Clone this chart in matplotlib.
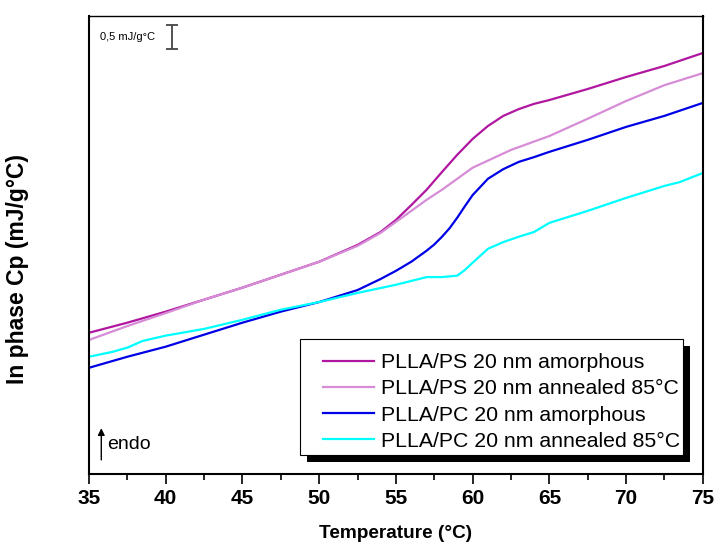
import matplotlib
matplotlib.use("Agg")
import matplotlib.pyplot as plt
from matplotlib.patches import Rectangle

plt.rcParams['font.family'] = ['Liberation Sans', 'DejaVu Sans']

# temperature grid (°C) and in-phase Cp (mJ/g°C, arbitrary offset)
temp_ps = [35, 37.5, 40, 42.5, 45, 47.5, 50, 52.5, 54, 55, 56, 57, 58, 59, 60,
           61, 62, 63, 64, 65, 67.5, 70, 72.5, 75]
ps_amorphous = [2.94, 3.15, 3.38, 3.63, 3.88, 4.15, 4.42, 4.77, 5.04, 5.29, 5.60,
                5.92, 6.29, 6.65, 6.98, 7.25, 7.46, 7.60, 7.71, 7.79, 8.02, 8.27,
                8.50, 8.77]

temp_ps_ann = [35, 37.5, 40, 42.5, 45, 47.5, 50, 52.5, 54, 55, 56, 57, 58, 59, 60,
               62.5, 65, 67.5, 70, 72.5, 75]
ps_annealed = [2.79, 3.08, 3.35, 3.63, 3.88, 4.15, 4.42, 4.75, 5.02, 5.25, 5.48,
               5.71, 5.92, 6.15, 6.38, 6.75, 7.04, 7.40, 7.77, 8.10, 8.35]

temp_pc = [35, 37.5, 40, 42.5, 45, 47.5, 50, 52.5, 54, 55, 56, 57, 57.5, 58, 58.5,
           59, 59.5, 60, 61, 62, 63, 64, 65, 67.5, 70, 72.5, 75]
pc_amorphous = [2.21, 2.44, 2.65, 2.90, 3.15, 3.38, 3.58, 3.83, 4.06, 4.23, 4.42,
                4.65, 4.78, 4.94, 5.12, 5.34, 5.58, 5.81, 6.15, 6.35, 6.50, 6.60,
                6.71, 6.96, 7.23, 7.46, 7.73]

temp_pc_ann = [35, 36.5, 37.5, 38.5, 40, 42.5, 45, 47.5, 50, 52.5, 55, 57, 58, 59,
               59.5, 60, 61, 62, 63, 64, 65, 67.5, 70, 72.5, 73.5, 75]
pc_annealed = [2.44, 2.54, 2.63, 2.77, 2.88, 3.02, 3.21, 3.42, 3.58, 3.77, 3.94,
               4.10, 4.10, 4.13, 4.25, 4.40, 4.69, 4.83, 4.94, 5.04, 5.23, 5.48,
               5.75, 6.00, 6.08, 6.27]

labels = ["PLLA/PS 20 nm amorphous", "PLLA/PS 20 nm annealed 85°C",
          "PLLA/PC 20 nm amorphous", "PLLA/PC 20 nm annealed 85°C"]
colors = ["#B0169F", "#D68CD6", "#0000E6", "#00FFFF"]

fig = plt.figure(figsize=(7.15, 5.44), dpi=100)
ax = fig.add_axes([0.1245, 0.129, 0.8585, 0.8415])

series = [(temp_ps, ps_amorphous), (temp_ps_ann, ps_annealed),
          (temp_pc, pc_amorphous), (temp_pc_ann, pc_annealed)]
for (t, cp), lab, c in zip(series, labels, colors):
    ax.plot(t, cp, color=c, lw=1.6, label=lab)

ax.set_xlim(35, 75)
ax.set_ylim(0, 9.54)
ax.set_xticks(range(35, 76, 5))
ax.set_xticks([37.5 + 5 * i for i in range(8)], minor=True)
ax.set_yticks([])
ax.tick_params(axis='x', which='major', direction='out', length=7, width=1.2,
               labelsize=15, pad=4)
ax.tick_params(axis='x', which='minor', direction='out', length=4, width=1.2)
for lab in ax.get_xticklabels():
    lab.set_fontweight('bold')
for side in ['left', 'right', 'bottom']:
    ax.spines[side].set_linewidth(1.5)
ax.spines['top'].set_linewidth(1.0)

ax.set_xlabel("Temperature (°C)", fontsize=13.7, fontweight='bold', labelpad=12)
ax.set_ylabel("In phase Cp (mJ/g°C)", fontsize=16.5, fontweight='bold')
ax.yaxis.set_label_coords(-0.097, 0.448)

# scale bar 0.5 mJ/g°C
ax.errorbar([40.4], [9.10], yerr=0.25, color='#444444', capsize=4, elinewidth=1.3,
            capthick=1.3)
ax.text(35.7, 9.10, "0,5 mJ/g°C", fontsize=8, va='center', ha='left')

# endo arrow
ax.annotate("", xy=(35.8, 0.95), xytext=(35.8, 0.29),
            arrowprops=dict(arrowstyle='-|>', color='black', lw=1.0,
                            mutation_scale=10, shrinkA=0, shrinkB=0))
ax.text(36.2, 0.62, "endo", fontsize=14, va='center', ha='left')

# legend box with solid black drop shadow
box = (0.3436, 0.0415, 0.6238, 0.2533)
ax.add_patch(Rectangle((box[0] + 0.0114, box[1] - 0.0153), box[2], box[3],
                       transform=ax.transAxes, facecolor='black', edgecolor='none',
                       zorder=5, clip_on=False))
ax.add_patch(Rectangle((box[0], box[1]), box[2], box[3], transform=ax.transAxes,
                       facecolor='white', edgecolor='black', lw=0.8, zorder=5.5,
                       clip_on=False))
leg = ax.legend(loc='center', bbox_to_anchor=(0.672, 0.157), fontsize=15.3,
                frameon=False, handlelength=2.4, handletextpad=0.3,
                labelspacing=0.34, borderpad=0, borderaxespad=0)
leg.set_zorder(6)

fig.savefig("out.png", dpi=100)
